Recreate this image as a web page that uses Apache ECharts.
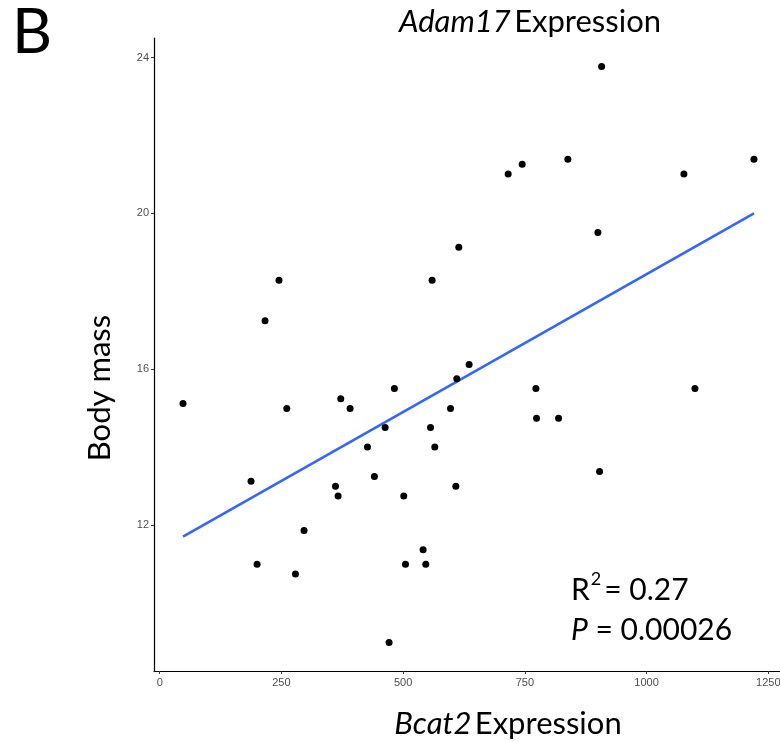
<!DOCTYPE html>
<html>
<head>
<meta charset="utf-8">
<script src="https://cdn.jsdelivr.net/npm/echarts@6/dist/echarts.min.js"></script>
<style>
html,body{margin:0;padding:0;background:#fff;}
#chart{width:780px;height:742px;}
</style>
</head>
<body>
<div id="chart"></div>
<script>
// Data
var bcat2 = [907.6, 715.7, 744.5, 838.3, 1076.6, 1220.5, 900, 614.3, 559.5, 245, 216.4, 47.9, 261, 371.9, 391, 482, 463, 426.7, 187.6, 441, 361, 366.4, 635.5, 610.2, 772.6, 1099.3, 597.3, 556.2, 774, 819.2, 565, 903.4, 608.2, 501.3, 200, 278.8, 296.5, 504.8, 541, 546.5, 471.1];
var bodyMass = [23.77, 21.01, 21.26, 21.39, 21.01, 21.39, 19.51, 19.13, 18.28, 18.28, 17.24, 15.12, 14.99, 15.24, 14.99, 15.5, 14.5, 14.0, 13.12, 13.24, 12.99, 12.74, 16.12, 15.75, 15.5, 15.5, 14.99, 14.5, 14.74, 14.74, 14.0, 13.37, 12.99, 12.74, 10.99, 10.74, 11.86, 10.99, 11.36, 10.99, 8.98];
var fitX = [47.9, 1220.5];
var fitY = [11.70, 20.0];
var xTicks = [0, 250, 500, 750, 1000, 1250];
var yTicks = [12, 16, 20, 24];
var r2Text = '0.27';
var pText = '0.00026';

var points = bcat2.map(function (x, i) { return [x, bodyMass[i]]; });
var fitLine = fitX.map(function (x, i) { return [x, fitY[i]]; });

var chart = echarts.init(document.getElementById('chart'), null, {renderer: 'canvas'});
var bigFont = 'Lato, "Open Sans", sans-serif';
var tickFont = '"Liberation Sans", Arial, sans-serif';
var fs = 31;

chart.setOption({
  animation: false,
  backgroundColor: '#ffffff',
  grid: {left: 154, right: 0, top: 38, bottom: 71, containLabel: false, outerBoundsMode: 'none'},
  xAxis: {
    type: 'value', min: -11.7, max: 1274,
    splitLine: {show: false},
    axisLine: {show: true, onZero: false, lineStyle: {color: '#000', width: 1.2}},
    axisTick: {show: true, customValues: xTicks, length: 3, lineStyle: {color: '#333'}},
    axisLabel: {customValues: xTicks, color: '#4d4d4d', fontSize: 11, fontFamily: tickFont, margin: 6,
      formatter: function (v) { return String(v); }}
  },
  yAxis: {
    type: 'value', min: 8.25, max: 24.5,
    splitLine: {show: false},
    axisLine: {show: true, onZero: false, lineStyle: {color: '#000', width: 1.2}},
    axisTick: {show: true, customValues: yTicks, length: 3, lineStyle: {color: '#333'}},
    axisLabel: {customValues: yTicks, color: '#4d4d4d', fontSize: 11, fontFamily: tickFont, margin: 5,
      formatter: function (v) { return String(v); }}
  },
  graphic: [
    {type: 'text', left: 12, top: 2, style: {text: 'B', fontFamily: bigFont, fontSize: 62, fill: '#000'}},
    {type: 'text', x: 530, y: 22, style: {
      text: '{i|Adam17} {n|Expression}', align: 'center', verticalAlign: 'middle',
      rich: {
        i: {fontFamily: bigFont, fontStyle: 'italic', fontWeight: 'normal', fontSize: fs, fill: '#000'},
        n: {fontFamily: bigFont, fontWeight: 'normal', fontSize: fs, fill: '#000'}
      }
    }},
    {type: 'text', x: 508, y: 724, style: {
      text: '{i|Bcat2} {n|Expression}', align: 'center', verticalAlign: 'middle',
      rich: {
        i: {fontFamily: bigFont, fontStyle: 'italic', fontWeight: 'normal', fontSize: fs, fill: '#000'},
        n: {fontFamily: bigFont, fontWeight: 'normal', fontSize: fs, fill: '#000'}
      }
    }},
    {type: 'text', x: 100, y: 388, rotation: Math.PI / 2, style: {
      text: 'Body mass', align: 'center', verticalAlign: 'middle',
      fontFamily: bigFont, fontSize: fs, fill: '#000'
    }},
    {type: 'text', left: 571, top: 570, style: {
      text: '{n|R}{s|2}{n|= ' + r2Text + '}\n{i|P}{n| = ' + pText + '}',
      rich: {
        n: {fontFamily: bigFont, fontSize: 30, fill: '#000', lineHeight: 40},
        i: {fontFamily: bigFont, fontStyle: 'italic', fontSize: 30, fill: '#000', lineHeight: 40},
        s: {fontFamily: bigFont, fontSize: 18, fill: '#000', verticalAlign: 'top', lineHeight: 40, padding: [0, 3, 14, 1]}
      }
    }}
  ],
  series: [
    {
      type: 'scatter', data: points, symbolSize: 7,
      itemStyle: {color: '#000', opacity: 1}, z: 3
    },
    {
      type: 'line', data: fitLine, showSymbol: false, symbol: 'none',
      lineStyle: {color: '#3366FF', width: 2.6}, z: 2
    }
  ]
});
</script>
</body>
</html>
